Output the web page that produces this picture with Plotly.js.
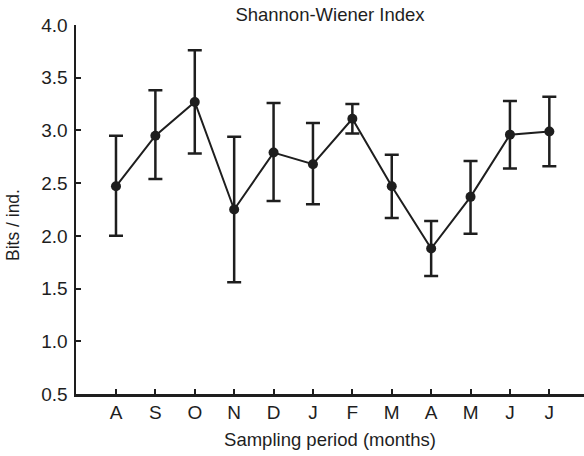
<!DOCTYPE html>
<html>
<head>
<meta charset="utf-8">
<script src="https://cdn.plot.ly/plotly-3.0.1.min.js"></script>
<style>html,body{margin:0;padding:0;background:#fff;}#chart{width:584px;height:456px;}</style>
</head>
<body>
<div id="chart"></div>
<script>
const months = ["A", "S", "O", "N", "D", "J", "F", "M", "A", "M", "J", "J"];
const meanH = [2.47, 2.95, 3.27, 2.25, 2.79, 2.68, 3.11, 2.47, 1.88, 2.37, 2.96, 2.99];
const upperH = [2.95, 3.38, 3.76, 2.94, 3.26, 3.07, 3.25, 2.77, 2.14, 2.71, 3.28, 3.32];
const lowerH = [2.00, 2.54, 2.78, 1.56, 2.33, 2.30, 2.97, 2.17, 1.62, 2.02, 2.64, 2.66];
const yTicks = [0.5, 1.0, 1.5, 2.0, 2.5, 3.0, 3.5, 4.0];

const idx = months.map((m, i) => i);
const errPlus = meanH.map((v, i) => upperH[i] - v);
const errMinus = meanH.map((v, i) => v - lowerH[i]);
const ink = "#1e1e1e";
const font = "Liberation Sans, Arial, Helvetica, sans-serif";

const trace = {
  x: idx, y: meanH, type: "scatter", mode: "lines+markers",
  line: {color: ink, width: 2},
  marker: {color: ink, size: 10},
  error_y: {type: "data", symmetric: false, array: errPlus, arrayminus: errMinus,
            color: ink, thickness: 2.5, width: 7},
  hoverinfo: "skip", showlegend: false
};

const layout = {
  width: 584, height: 456,
  margin: {l: 76, r: 0, t: 25, b: 62},
  paper_bgcolor: "#fff", plot_bgcolor: "#fff",
  font: {family: font, size: 19, color: ink},
  title: {text: "Shannon-Wiener Index", x: 0.5, xref: "paper", y: 0.982, yref: "container", yanchor: "top",
          font: {family: font, size: 18.5, color: ink}},
  xaxis: {
    range: [-1.015, 11.88], tickvals: idx, ticktext: months,
    showline: true, linecolor: ink, linewidth: 2.5, mirror: false,
    ticks: "inside", ticklen: 5, tickwidth: 2, tickcolor: ink,
    showgrid: false, zeroline: false,
    tickfont: {family: font, size: 19, color: ink},
    title: {text: "Sampling period (months)", font: {family: font, size: 18.5, color: ink}, standoff: 11}
  },
  yaxis: {
    range: [0.5, 4.0], tickvals: yTicks, ticktext: yTicks.map(v => v.toFixed(1)),
    showline: true, linecolor: ink, linewidth: 2.5,
    ticks: "inside", ticklen: 5, tickwidth: 2, tickcolor: ink,
    showgrid: false, zeroline: false, ticklabelstandoff: 2,
    tickfont: {family: font, size: 19, color: ink}
  },
  annotations: [{
    text: "Bits / ind.", textangle: -90, xref: "paper", yref: "paper",
    x: -0.124, y: 0.458, xanchor: "center", yanchor: "middle", showarrow: false,
    font: {family: font, size: 17.5, color: ink}
  }]
};

Plotly.newPlot("chart", [trace], layout, {displayModeBar: false, staticPlot: true});
</script>
</body>
</html>
